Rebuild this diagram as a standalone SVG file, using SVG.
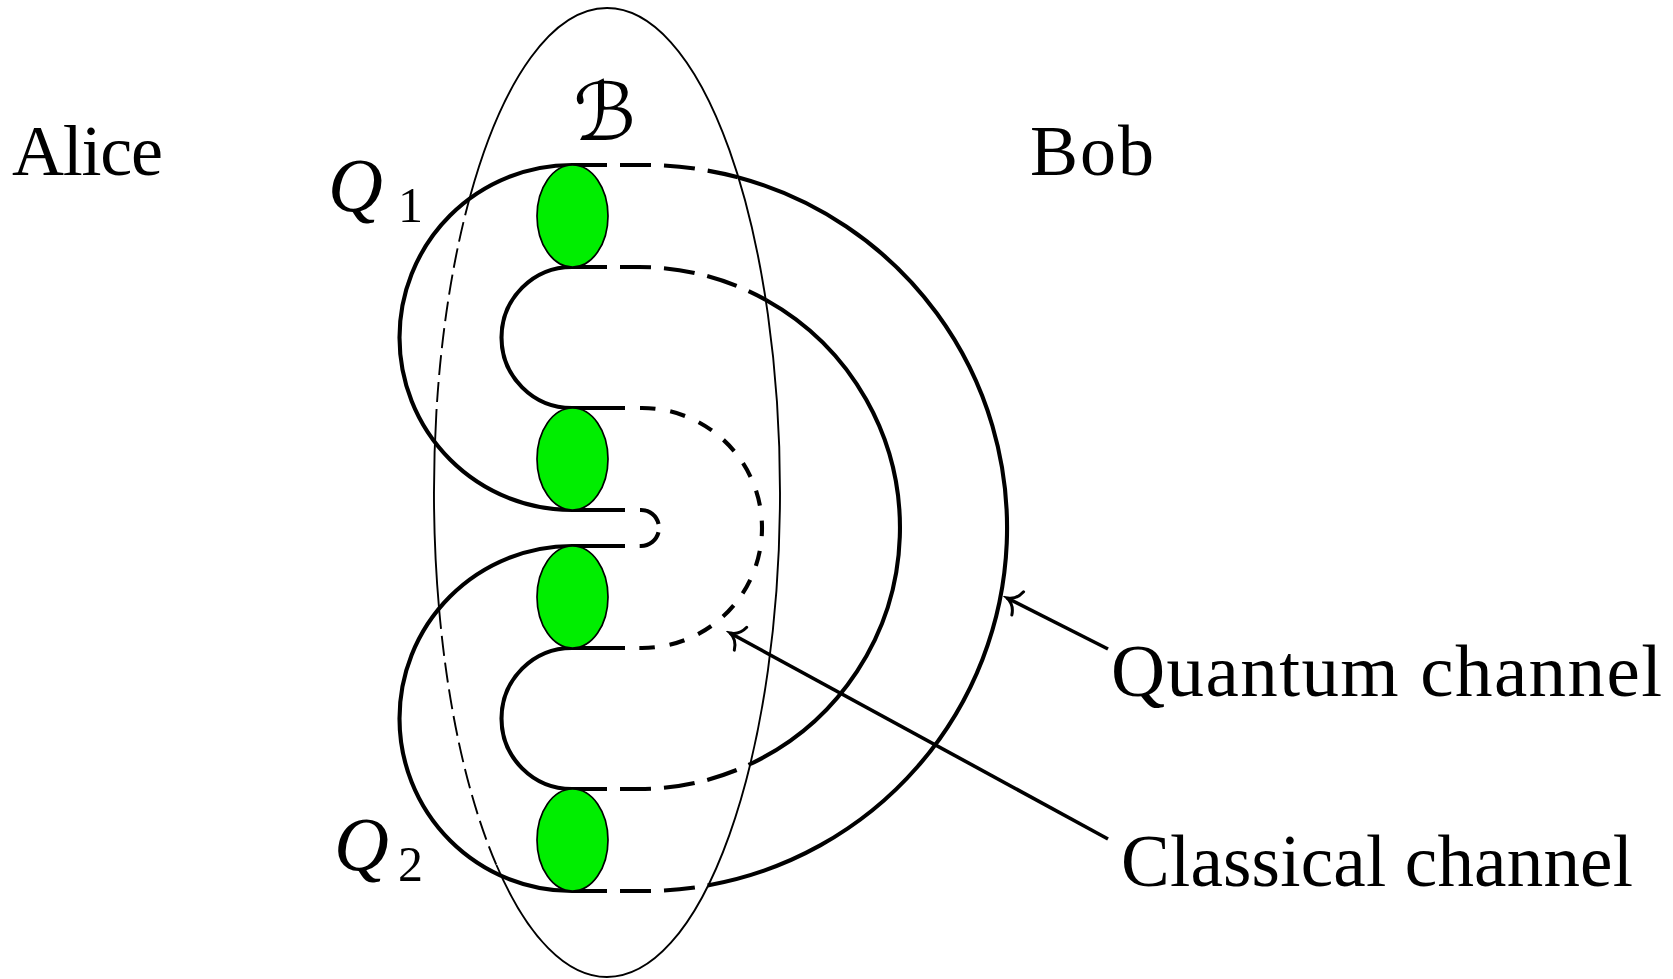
<svg xmlns="http://www.w3.org/2000/svg" width="1673" height="979" viewBox="0 0 1673 979">
<style>
.thick{fill:none;stroke:#000;stroke-width:4.1}
.dash{stroke-dasharray:31 13;stroke-dashoffset:31}
.thin{fill:none;stroke:#000;stroke-width:1.9}
.thindash{stroke-dasharray:20 7}
.qubit{fill:#00ee00;stroke:#000;stroke-width:1.7}
.lbl{font-family:"Liberation Serif","Times New Roman",serif;font-size:72px;fill:#000}
.it{font-style:italic}
.arrow{fill:none;stroke:#000;stroke-width:3.6}
</style>
<defs>
<marker id="tip" markerUnits="userSpaceOnUse" markerWidth="28" markerHeight="34" viewBox="-24 -17 28 34" refX="0" refY="0" orient="auto">
<path d="M -12 -13 C -10 -5.5 -4.5 -1.3 0 0 C -4.5 1.3 -10 5.5 -12 13" fill="none" stroke="#000" stroke-width="3" stroke-linecap="round"/>
</marker>
</defs>
<rect x="0" y="0" width="1673" height="979" fill="#fff"/>

<g id="bob-region">
<path class="thin" d="M 436.4 412 A 173 484.5 0 0 0 439.1 609"/>
<path class="thin" d="M 496.4 865 A 173 484.5 0 0 0 607 977 A 173 484.5 0 0 0 780 492.5 A 173 484.5 0 0 0 607 8 A 173 484.5 0 0 0 470.2 196"/>
<path class="thin thindash" d="M 470.2 196 A 173 484.5 0 0 0 436.4 412"/>
<path class="thin thindash" d="M 439.1 609 A 173 484.5 0 0 0 496.4 865"/>
<text x="573" y="140" style="font-family:'DejaVu Serif','DejaVu Sans',serif;font-size:80px;font-style:italic">ℬ</text>
</g>

<g id="connectors">
<!-- left loops -->
<path class="thick" d="M 607 165 H 572 A 172.5 172.5 0 0 0 572 510 H 625"/>
<path class="thick" d="M 607 267 H 572 A 70.5 70.5 0 0 0 572 408 H 625"/>
<path class="thick" d="M 625 546 H 572 A 172.5 172.5 0 0 0 572 891 H 607"/>
<path class="thick" d="M 625 648 H 572 A 70.5 70.5 0 0 0 572 789 H 607"/>
<!-- outer quantum loop -->
<path class="thick dash" d="M 607 165 H 644 A 363 363 0 0 1 738.5 177.5"/>
<path class="thick" d="M 738.5 177.5 A 363 363 0 0 1 708.7 885.2"/>
<path class="thick dash" d="M 607 891 H 644 A 363 363 0 0 0 708.7 885.2"/>
<!-- middle loop -->
<path class="thick dash" d="M 607 267 H 639 A 261 261 0 0 1 766 300"/>
<path class="thick" d="M 766 300 A 261 261 0 0 1 750.4 764"/>
<path class="thick dash" d="M 607 789 H 639 A 261 261 0 0 0 750.4 764"/>
<!-- inner classical loop -->
<path class="thick" style="stroke-dasharray:15.5 15;stroke-dashoffset:15.5" d="M 625 408 H 642 A 120 120 0 0 1 642 648 H 625"/>
<!-- tiny loop -->
<path class="thick" style="stroke-dasharray:0 15 25 8.5 25 15" d="M 625 510 H 641 A 18 18 0 0 1 641 546 H 625"/>
<!-- pointer arrows -->
<path class="arrow" d="M 1108 649 L 1007 598" marker-end="url(#tip)"/>
<path class="arrow" d="M 1108 839 L 730 633" marker-end="url(#tip)"/>
</g>

<g id="qubit1"><ellipse class="qubit" cx="572.5" cy="216" rx="35.5" ry="51"/></g>
<g id="qubit2"><ellipse class="qubit" cx="572.5" cy="459" rx="35.5" ry="51"/></g>
<g id="qubit3"><ellipse class="qubit" cx="572.5" cy="597" rx="35.5" ry="51"/></g>
<g id="qubit4"><ellipse class="qubit" cx="572.5" cy="840" rx="35.5" ry="51"/></g>

<g id="alice"><text class="lbl" x="12" y="175" textLength="151">Alice</text></g>
<g id="bob"><text class="lbl" x="1030" y="175" textLength="124">Bob</text></g>
<g id="q1"><text class="lbl" x="328" y="211" style="font-size:76px"><tspan class="it">Q</tspan><tspan x="398" y="222" style="font-size:50px">1</tspan></text></g>
<g id="q2"><text class="lbl" x="334" y="870" style="font-size:76px"><tspan class="it">Q</tspan><tspan x="398" y="881" style="font-size:50px">2</tspan></text></g>
<g id="quantum-label"><text class="lbl" x="1111" y="696" style="font-size:75px" textLength="551">Quantum channel</text></g>
<g id="classical-label"><text class="lbl" x="1121" y="886" style="font-size:73px" textLength="512">Classical channel</text></g>
</svg>
